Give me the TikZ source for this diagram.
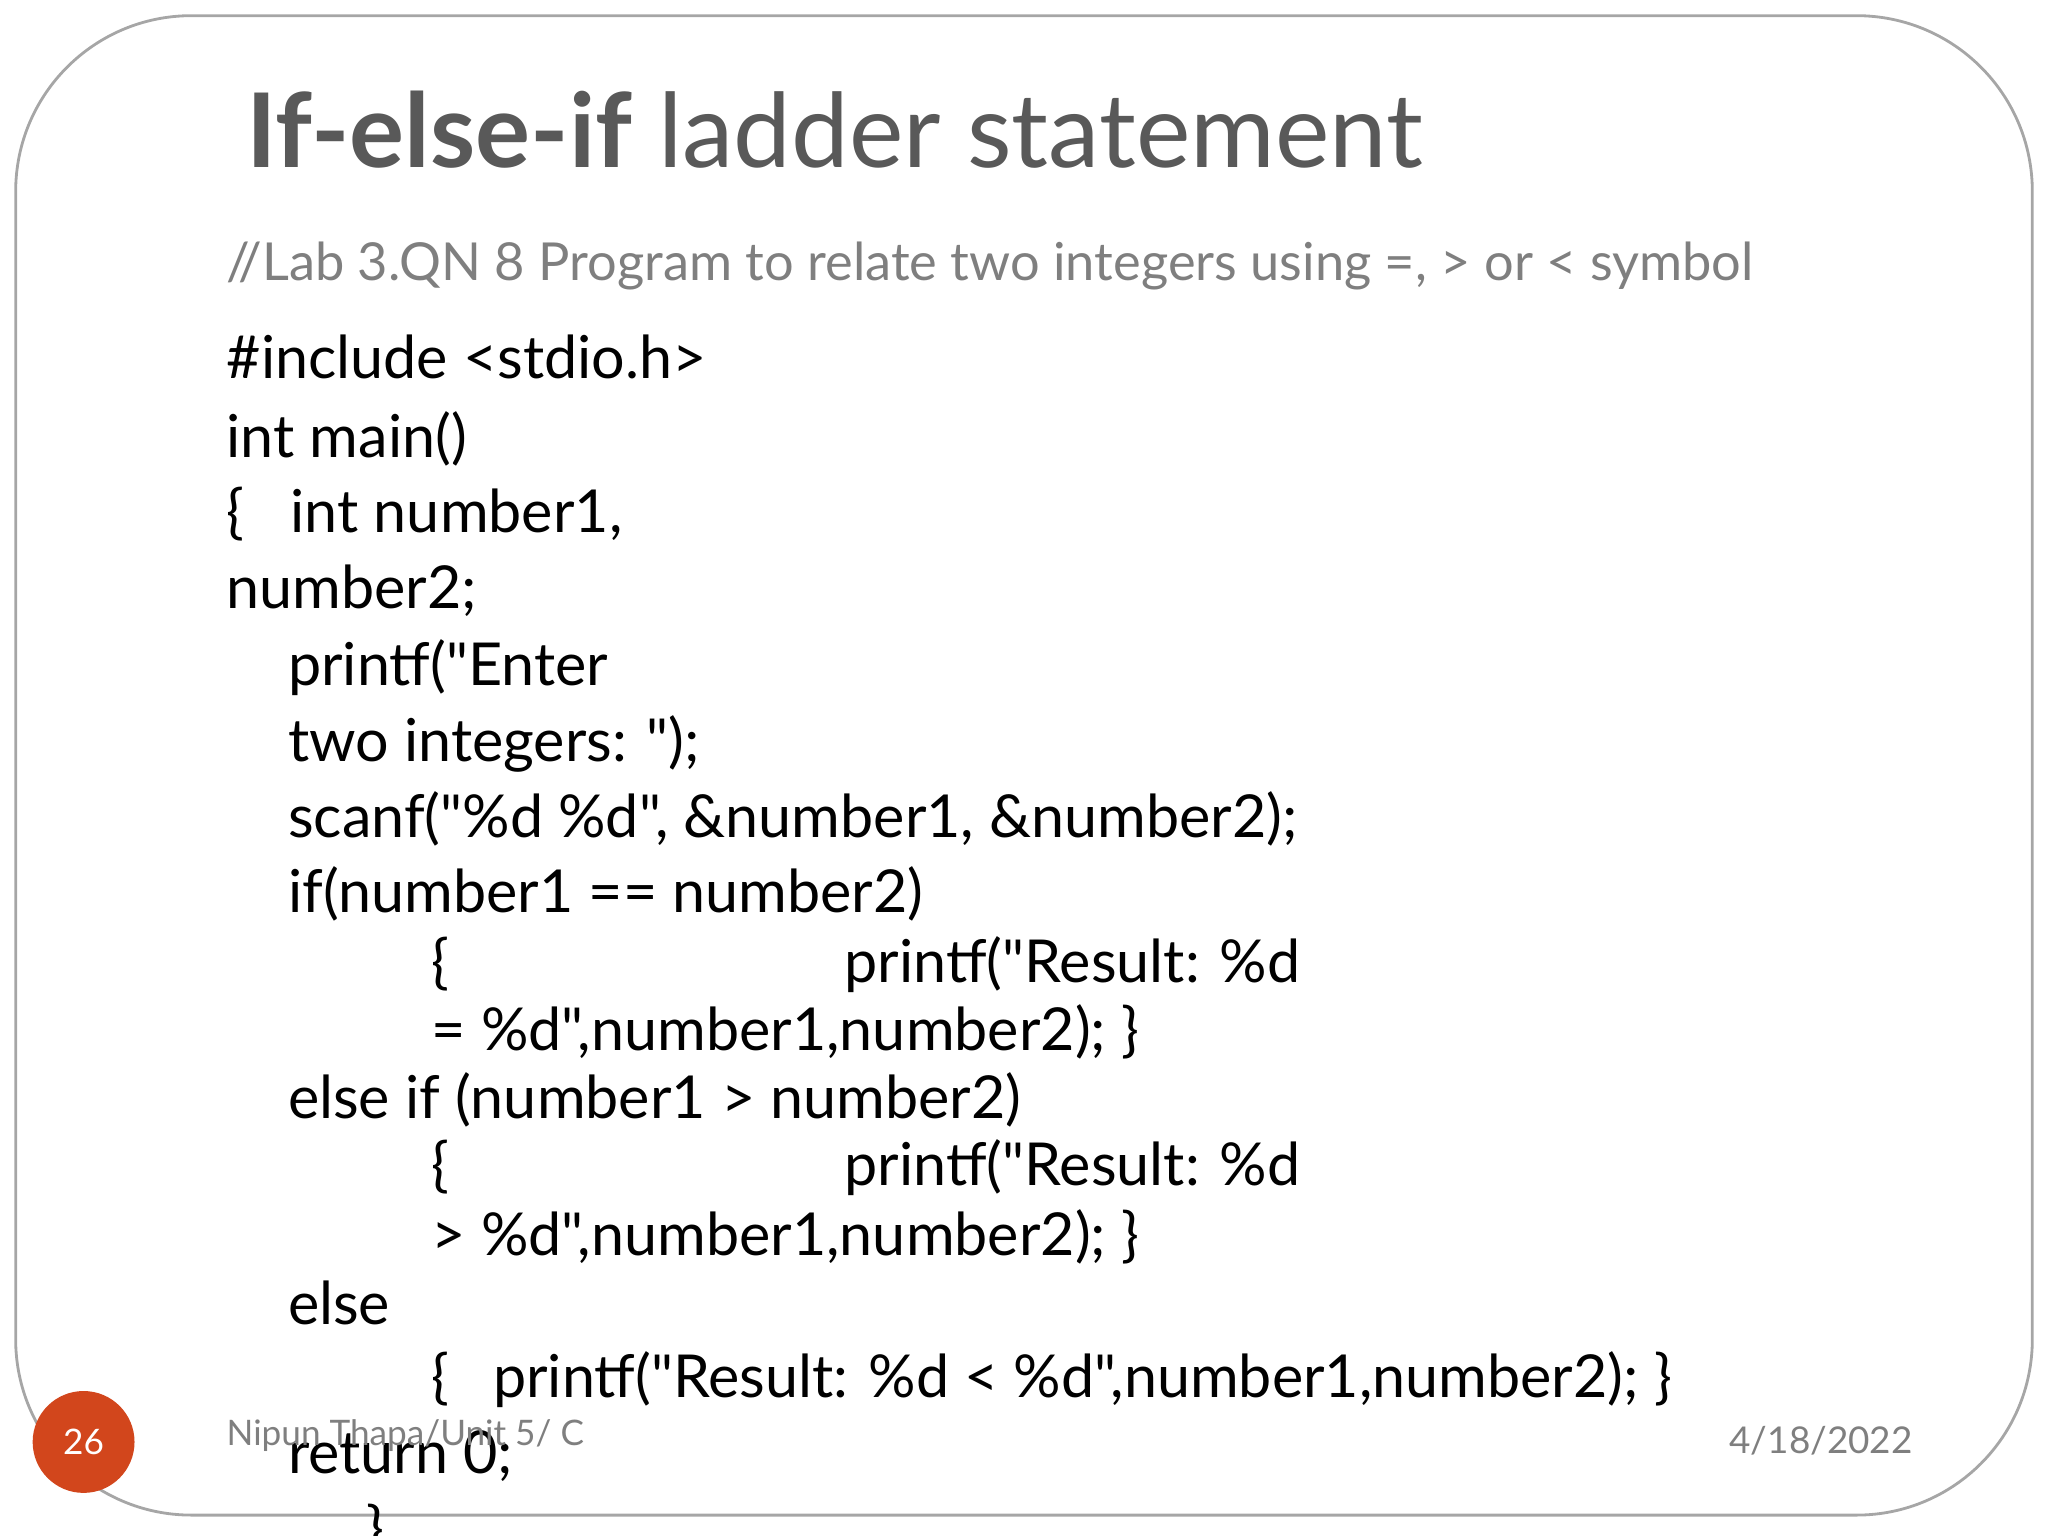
\documentclass[tikz,border=0pt]{standalone}
\usepackage{fontspec}
\setmainfont{Lato}[Ligatures=TeXOff]
\definecolor{tgray}{HTML}{595959}
\definecolor{sgray}{HTML}{7F7F7F}
\definecolor{orng}{HTML}{D2461C}
\begin{document}
\begin{tikzpicture}[x=0.01306cm,y=-0.01306cm,
  code/.style={anchor=base west,inner sep=0,font=\fontsize{16.85}{20}\selectfont}]
\useasboundingbox (0,0) rectangle (1568,1176);
\clip (0,0) rectangle (1568,1176);
\draw[gray!70,line width=0.8pt,rounded corners=50] (12,12) rectangle (1556,1160);
\node[anchor=base west,inner sep=0,text=tgray,font=\fontsize{29.3}{34}\selectfont] (title) at (188,128) {\textbf{If-else-if} ladder statement};
\node[anchor=base west,inner sep=0,text=sgray,font=\fontsize{14.9}{18}\selectfont] (sub) at (173,215) {//Lab 3.QN 8 Program to relate two integers using =, > or < symbol};
\node[code] (l1) at (173,290) {\#include <stdio.h>};
\node[code] (l2) at (173,350) {int main()};
\node[code] (l3) at (173,408) {\{};
\node[code] (l3b) at (222,408) {int number1,};
\node[code] (l4) at (173,466) {number2;};
\node[code] (l5) at (220,525) {printf("Enter};
\node[code] (l6) at (220,583) {two integers: ");};
\node[code] (l7) at (220,641) {scanf("\%d \%d", \&number1, \&number2);};
\node[code] (l8) at (220,699) {if(number1 == number2)};
\node[code] (l9) at (330,752) {\{};
\node[code] (l9b) at (646,752) {printf("Result: \%d};
\node[code] (l10) at (330,804) {= \%d",number1,number2); \}};
\node[code] (l11) at (220,856) {else if (number1 > number2)};
\node[code] (l12) at (330,908) {\{};
\node[code] (l12b) at (646,908) {printf("Result: \%d};
\node[code] (l13) at (330,961) {> \%d",number1,number2); \}};
\node[code] (l14) at (220,1014) {else};
\node[code] (l15) at (330,1070) {\{};
\node[code] (l15b) at (377,1070) {printf("Result: \%d < \%d",number1,number2); \}};
\node[code] (l16) at (220,1128) {return 0;};
\node[code] (l17) at (280,1186) {\}};
\node[circle,fill=orng,minimum size=78*0.01306cm,inner sep=0,text=white,font=\fontsize{10}{12}\selectfont] (pg) at (64,1104) {26};
\node[anchor=base west,inner sep=0,text=sgray,font=\fontsize{10}{12}\selectfont] (ft) at (173,1107) {Nipun Thapa/Unit 5/ C};
\node[anchor=base east,inner sep=0,text=sgray,font=\fontsize{10.5}{12}\selectfont] (dt) at (1465,1113) {4/18/2022};
\end{tikzpicture}
\end{document}
